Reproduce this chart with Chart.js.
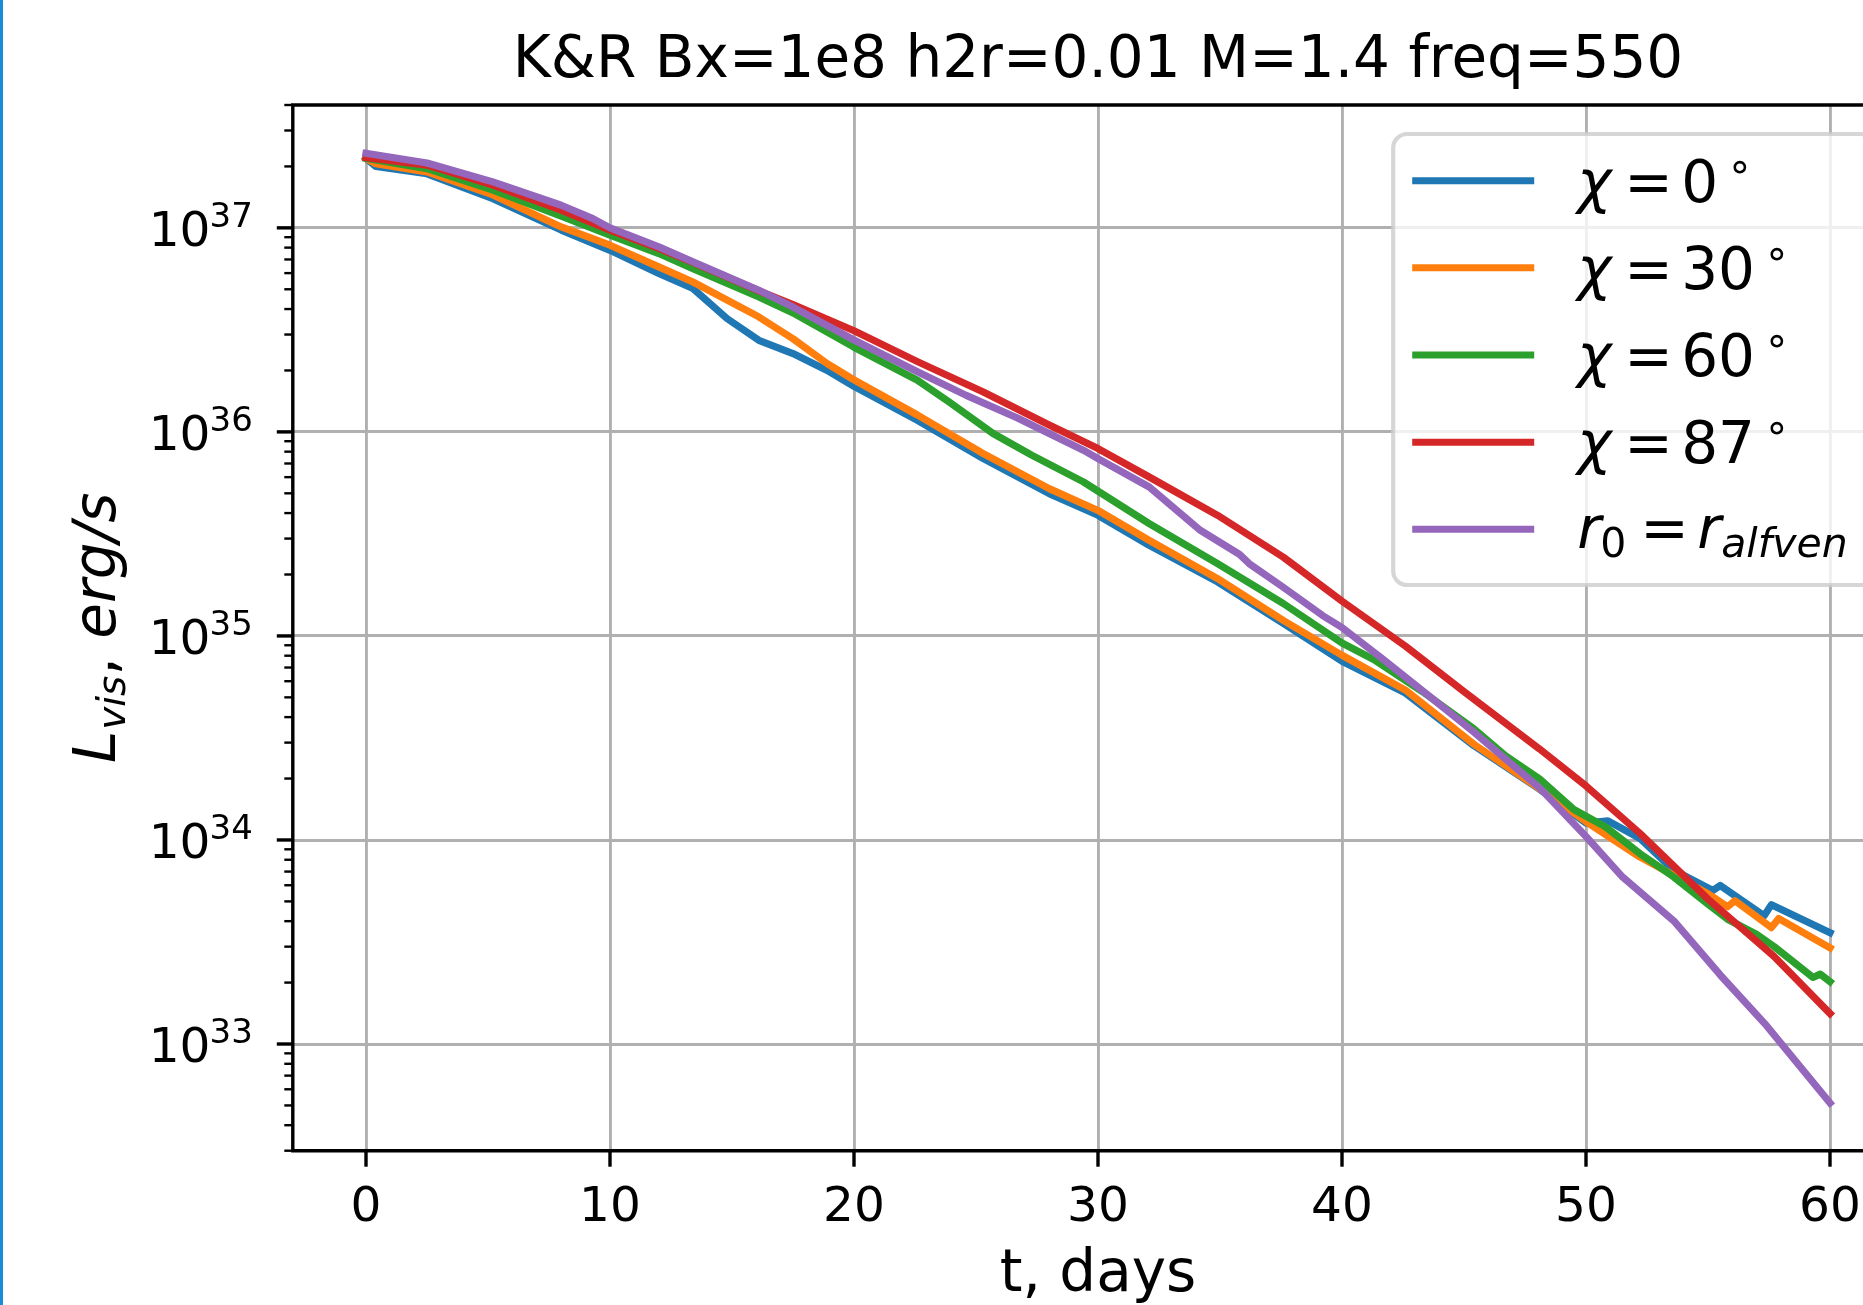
<!DOCTYPE html>
<html>
<head>
<meta charset="utf-8">
<title>K&amp;R Bx=1e8 h2r=0.01 M=1.4 freq=550</title>
<script src="https://cdn.jsdelivr.net/npm/chart.js@4.4.1/dist/chart.umd.min.js"></script>
<style>
  html, body { margin: 0; padding: 0; background: #fff; overflow: hidden; }
  #frame { position: relative; width: 1863px; height: 1305px; overflow: hidden; background: #fff; }
  #frame canvas { position: absolute; left: 0; top: 0; }
  #edge { position: absolute; left: 0; top: 0; width: 3px; height: 1305px; background: #1b8cd6; }
</style>
</head>
<body>
<div id="frame">
  <canvas id="lc" width="1960" height="1305"></canvas>
  <div id="edge"></div>
</div>
<script>
// ---- light curves: time in days, visible luminosity in erg/s ----
const tChi0 = [0, 0.4, 2.5, 5.2, 8.0, 10.0, 12.0, 13.4, 14.8, 16.1, 17.5, 18.9, 20.0, 22.6, 25.3, 28.0, 30.0, 32.1, 34.9, 37.6, 40.0, 42.6, 45.4, 48.1, 50.0, 50.9, 52.2, 53.6, 55.2, 55.5, 57.3, 57.6, 60.0];
const lumChi0 = [2.19e37, 2.00e37, 1.84e37, 1.39e37, 9.75e36, 7.76e36, 5.97e36, 5.04e36, 3.59e36, 2.81e36, 2.42e36, 2.00e36, 1.67e36, 1.14e36, 7.40e35, 4.98e35, 3.90e35, 2.78e35, 1.84e35, 1.15e35, 7.52e34, 5.25e34, 2.90e34, 1.77e34, 1.21e34, 1.24e34, 1.02e34, 7.10e33, 5.65e33, 5.98e33, 4.25e33, 4.82e33, 3.51e33];

const tChi30 = [0, 0.4, 2.5, 5.2, 8.0, 10.0, 12.0, 13.4, 16.1, 17.5, 18.9, 20.0, 22.6, 25.3, 28.0, 30.0, 32.1, 34.9, 37.6, 40.0, 42.6, 45.4, 48.1, 50.0, 52.2, 55.0, 55.8, 56.1, 57.6, 57.9, 60.0];
const lumChi30 = [2.19e37, 2.06e37, 1.88e37, 1.45e37, 1.01e37, 8.22e36, 6.44e36, 5.43e36, 3.66e36, 2.86e36, 2.16e36, 1.80e36, 1.21e36, 7.83e35, 5.27e35, 4.12e35, 2.94e35, 1.91e35, 1.19e35, 8.04e34, 5.43e34, 2.95e34, 1.78e34, 1.23e34, 8.26e33, 5.45e33, 4.71e33, 5.04e33, 3.72e33, 4.12e33, 2.96e33];

const tChi60 = [0, 2.5, 5.2, 8.0, 10.0, 12.0, 13.4, 16.1, 17.5, 20.0, 22.6, 23.9, 25.7, 27.3, 29.4, 32.1, 34.9, 37.6, 40.0, 41.3, 43.3, 45.4, 46.7, 48.1, 49.5, 50.8, 52.2, 53.6, 55.0, 55.8, 57.0, 57.7, 59.3, 59.6, 60.0];
const lumChi60 = [2.19e37, 1.95e37, 1.53e37, 1.14e37, 9.20e36, 7.48e36, 6.31e36, 4.58e36, 3.83e36, 2.60e36, 1.79e36, 1.40e36, 9.82e35, 7.67e35, 5.69e35, 3.55e35, 2.26e35, 1.44e35, 9.23e34, 7.66e34, 5.33e34, 3.51e34, 2.59e34, 1.99e34, 1.41e34, 1.16e34, 8.59e33, 6.58e33, 4.85e33, 4.09e33, 3.44e33, 3.01e33, 2.12e33, 2.20e33, 2.02e33];

const tChi87 = [0, 2.5, 5.2, 8.0, 10.0, 12.0, 13.4, 16.1, 17.5, 20.0, 22.6, 25.3, 28.0, 30.0, 32.1, 34.9, 37.6, 40.0, 42.6, 45.0, 48.1, 50.0, 52.2, 55.0, 57.7, 60.0];
const lumChi87 = [2.21e37, 2.03e37, 1.62e37, 1.22e37, 9.75e36, 7.93e36, 6.76e36, 4.91e36, 4.21e36, 3.13e36, 2.21e36, 1.57e36, 1.08e36, 8.28e35, 6.01e35, 3.90e35, 2.43e35, 1.48e35, 8.91e34, 5.33e34, 2.79e34, 1.84e34, 1.08e34, 5.13e33, 2.69e33, 1.41e33];

const tAlfven = [0, 2.5, 5.2, 8.0, 9.3, 10.0, 12.0, 13.4, 16.1, 17.5, 20.0, 22.6, 24.6, 26.7, 29.4, 30.0, 32.1, 34.2, 35.8, 36.2, 37.6, 39.2, 40.0, 41.7, 43.6, 45.4, 48.1, 50.0, 51.5, 53.6, 55.5, 57.4, 60.0];
const lumAlfven = [2.32e37, 2.08e37, 1.68e37, 1.29e37, 1.11e37, 1.00e37, 8.07e36, 6.81e36, 4.94e36, 4.09e36, 2.82e36, 1.97e36, 1.51e36, 1.17e36, 8.13e35, 7.40e35, 5.37e35, 3.29e35, 2.51e35, 2.26e35, 1.73e35, 1.26e35, 1.10e35, 7.66e34, 5.04e34, 3.38e34, 1.80e34, 1.04e34, 6.58e33, 4.01e33, 2.18e33, 1.23e33, 5.14e32];

// ---- axes ----
const xTickValues = [0, 10, 20, 30, 40, 50, 60];
const yDecades = [33, 34, 35, 36, 37];
const titleText = 'K&R Bx=1e8 h2r=0.01 M=1.4 freq=550';
const xAxisTitle = 't, days';

const FAMILY = '"DejaVu Sans", "Liberation Sans", sans-serif';
const font = (size, italic) => (italic ? 'italic ' : '') + size + 'px ' + FAMILY;

const pts = (t, v) => t.map((d, i) => ({ x: d, y: v[i] }));

const datasets = [
  { label: 'χ = 0°',  math: { kind: 'chi', angle: '0' },  data: pts(tChi0, lumChi0),   borderColor: '#1f77b4', order: 5 },
  { label: 'χ = 30°', math: { kind: 'chi', angle: '30' }, data: pts(tChi30, lumChi30), borderColor: '#ff7f0e', order: 4 },
  { label: 'χ = 60°', math: { kind: 'chi', angle: '60' }, data: pts(tChi60, lumChi60), borderColor: '#2ca02c', order: 3 },
  { label: 'χ = 87°', math: { kind: 'chi', angle: '87' }, data: pts(tChi87, lumChi87), borderColor: '#d62728', order: 2 },
  { label: 'r0 = r_alfven', math: { kind: 'radius' },     data: pts(tAlfven, lumAlfven), borderColor: '#9467bd', order: 1 }
];

function fillRuns(ctx, runs, x0, base) {
  for (const r of runs) {
    ctx.font = font(r.size, r.italic);
    ctx.fillText(r.text, x0 + r.dx, base + (r.dy || 0));
  }
}

// lays runs out one after another, returning them with offsets and the total advance
function flowRuns(ctx, parts) {
  let x = 0;
  const out = [];
  for (const p of parts) {
    x += p.before || 0;
    ctx.font = font(p.size, p.italic);
    out.push({ ...p, dx: x });
    x += ctx.measureText(p.text).width;
  }
  return { runs: out, width: x };
}

function legendRuns(ctx, math) {
  if (math.kind === 'chi') {
    ctx.font = font(58, false);
    const w = ctx.measureText(math.angle).width;
    return [
      { text: 'χ', size: 58, italic: true, dx: 2 },
      { text: '=', size: 58, dx: 49 },
      { text: math.angle, size: 58, dx: 106 },
      { text: '∘', size: 41, dx: 106 + w + 9, dy: -22 }
    ];
  }
  return [
    { text: 'r', size: 58, italic: true, dx: 2 },
    { text: '0', size: 41, dx: 25, dy: 9 },
    { text: '=', size: 58, dx: 65 },
    { text: 'r', size: 58, italic: true, dx: 122 },
    { text: 'alfven', size: 41, italic: true, dx: 146, dy: 9 }
  ];
}

function roundRect(ctx, x, y, w, h, r) {
  ctx.beginPath();
  ctx.moveTo(x + r, y);
  ctx.lineTo(x + w - r, y);
  ctx.arcTo(x + w, y, x + w, y + r, r);
  ctx.lineTo(x + w, y + h - r);
  ctx.arcTo(x + w, y + h, x + w - r, y + h, r);
  ctx.lineTo(x + r, y + h);
  ctx.arcTo(x, y + h, x, y + h - r, r);
  ctx.lineTo(x, y + r);
  ctx.arcTo(x, y, x + r, y, r);
  ctx.closePath();
}

// spines, tick marks, tick labels, titles and the legend
const axesDecor = {
  id: 'axesDecor',
  afterDraw(chart) {
    const { ctx, chartArea: a, scales } = chart;
    const xs = scales.x, ys = scales.y;
    ctx.save();
    ctx.fillStyle = '#000';
    ctx.strokeStyle = '#000';

    // tick marks
    ctx.lineCap = 'butt';
    ctx.lineWidth = 3.4;
    for (const v of xTickValues) {
      const px = xs.getPixelForValue(v);
      ctx.beginPath(); ctx.moveTo(px, a.bottom); ctx.lineTo(px, a.bottom + 16); ctx.stroke();
    }
    for (const e of yDecades) {
      const py = ys.getPixelForValue(Math.pow(10, e));
      ctx.beginPath(); ctx.moveTo(a.left - 16, py); ctx.lineTo(a.left, py); ctx.stroke();
    }
    ctx.lineWidth = 2.4;
    for (let e = 32; e <= 37; e++) {
      for (let k = 2; k <= 9; k++) {
        const v = k * Math.pow(10, e);
        if (v < ys.min * 0.999 || v > ys.max * 1.001) continue;
        const py = ys.getPixelForValue(v);
        ctx.beginPath(); ctx.moveTo(a.left - 8.5, py); ctx.lineTo(a.left, py); ctx.stroke();
      }
    }

    // spines
    ctx.lineWidth = 3.4;
    ctx.lineJoin = 'miter';
    ctx.lineCap = 'square';
    ctx.beginPath();
    ctx.moveTo(a.left, a.bottom); ctx.lineTo(a.left, a.top);
    ctx.lineTo(a.right, a.top); ctx.lineTo(a.right, a.bottom);
    ctx.closePath();
    ctx.stroke();

    // x tick labels
    ctx.textBaseline = 'alphabetic';
    ctx.textAlign = 'center';
    ctx.font = font(48.6, false);
    for (const v of xTickValues) {
      ctx.fillText(String(v), xs.getPixelForValue(v), a.bottom + 70.5);
    }

    // y tick labels as 10 with a raised exponent
    ctx.textAlign = 'right';
    const labelRight = a.left - 40;
    for (const e of yDecades) {
      const py = ys.getPixelForValue(Math.pow(10, e));
      ctx.font = font(34, false);
      const ew = ctx.measureText(String(e)).width;
      ctx.fillText(String(e), labelRight, py - 1);
      ctx.font = font(48.6, false);
      ctx.fillText('10', labelRight - ew + 1, py + 18);
    }

    // title and x-axis title
    ctx.textAlign = 'center';
    const cx = (a.left + a.right) / 2;
    ctx.font = font(58, false);
    ctx.fillText(titleText, cx, a.top - 28);
    ctx.fillText(xAxisTitle, cx, a.bottom + 140.5);

    // y-axis title, rotated
    ctx.save();
    ctx.textAlign = 'left';
    const yl = flowRuns(ctx, [
      { text: 'L', size: 58, italic: true },
      { text: 'vis', size: 39, italic: true, dy: 10, before: 1 },
      { text: ', ', size: 58 },
      { text: 'erg/s', size: 58, italic: true }
    ]);
    const cy = (a.top + a.bottom) / 2;
    ctx.translate(a.left - 178, cy + yl.width / 2);
    ctx.rotate(-Math.PI / 2);
    fillRuns(ctx, yl.runs, 0, 0);
    ctx.restore();

    // legend box in the upper right corner of the axes
    const boxW = 481, boxH = 451, gap = 29;
    const bx = a.right - gap - boxW, by = a.top + gap;
    roundRect(ctx, bx, by, boxW, boxH, 14);
    ctx.fillStyle = 'rgba(255,255,255,0.8)';
    ctx.fill();
    ctx.strokeStyle = 'rgba(204,204,204,0.8)';
    ctx.lineWidth = 4.2;
    ctx.stroke();

    ctx.textAlign = 'left';
    chart.data.datasets.forEach((ds, i) => {
      const rowY = by + 46.7 + i * 87.15;
      ctx.strokeStyle = ds.borderColor;
      ctx.lineWidth = 7;
      ctx.lineCap = 'butt';
      ctx.beginPath(); ctx.moveTo(bx + 19, rowY); ctx.lineTo(bx + 141, rowY); ctx.stroke();
      ctx.fillStyle = '#000';
      fillRuns(ctx, legendRuns(ctx, ds.math), bx + 182, rowY + (ds.math.kind === 'chi' ? 21 : 19));
    });
    ctx.restore();
  }
};

new Chart(document.getElementById('lc'), {
  type: 'line',
  data: { datasets },
  options: {
    responsive: false,
    animation: false,
    devicePixelRatio: 1,
    layout: { padding: { left: 0, right: 56.8, top: 105, bottom: 0 } },
    elements: {
      point: { radius: 0, hoverRadius: 0 },
      line: { borderWidth: 7.2, tension: 0, fill: false, borderJoinStyle: 'round', borderCapStyle: 'square' }
    },
    plugins: {
      legend: { display: false },
      title: { display: false },
      tooltip: { enabled: false }
    },
    events: [],
    scales: {
      x: {
        type: 'linear',
        min: -3,
        max: 63,
        afterBuildTicks: s => { s.ticks = xTickValues.map(v => ({ value: v })); },
        afterFit: s => { s.height = 154.3; },
        grid: { color: '#b0b0b0', lineWidth: 2.9, drawTicks: false },
        border: { display: false },
        ticks: { display: false }
      },
      y: {
        type: 'logarithmic',
        min: 3e32,
        max: 4e37,
        afterBuildTicks: s => { s.ticks = yDecades.map(e => ({ value: Math.pow(10, e), major: true })); },
        afterFit: s => { s.width = 292.8; },
        grid: { color: '#b0b0b0', lineWidth: 2.9, drawTicks: false },
        border: { display: false },
        ticks: { display: false }
      }
    }
  },
  plugins: [axesDecor]
});
</script>
</body>
</html>
